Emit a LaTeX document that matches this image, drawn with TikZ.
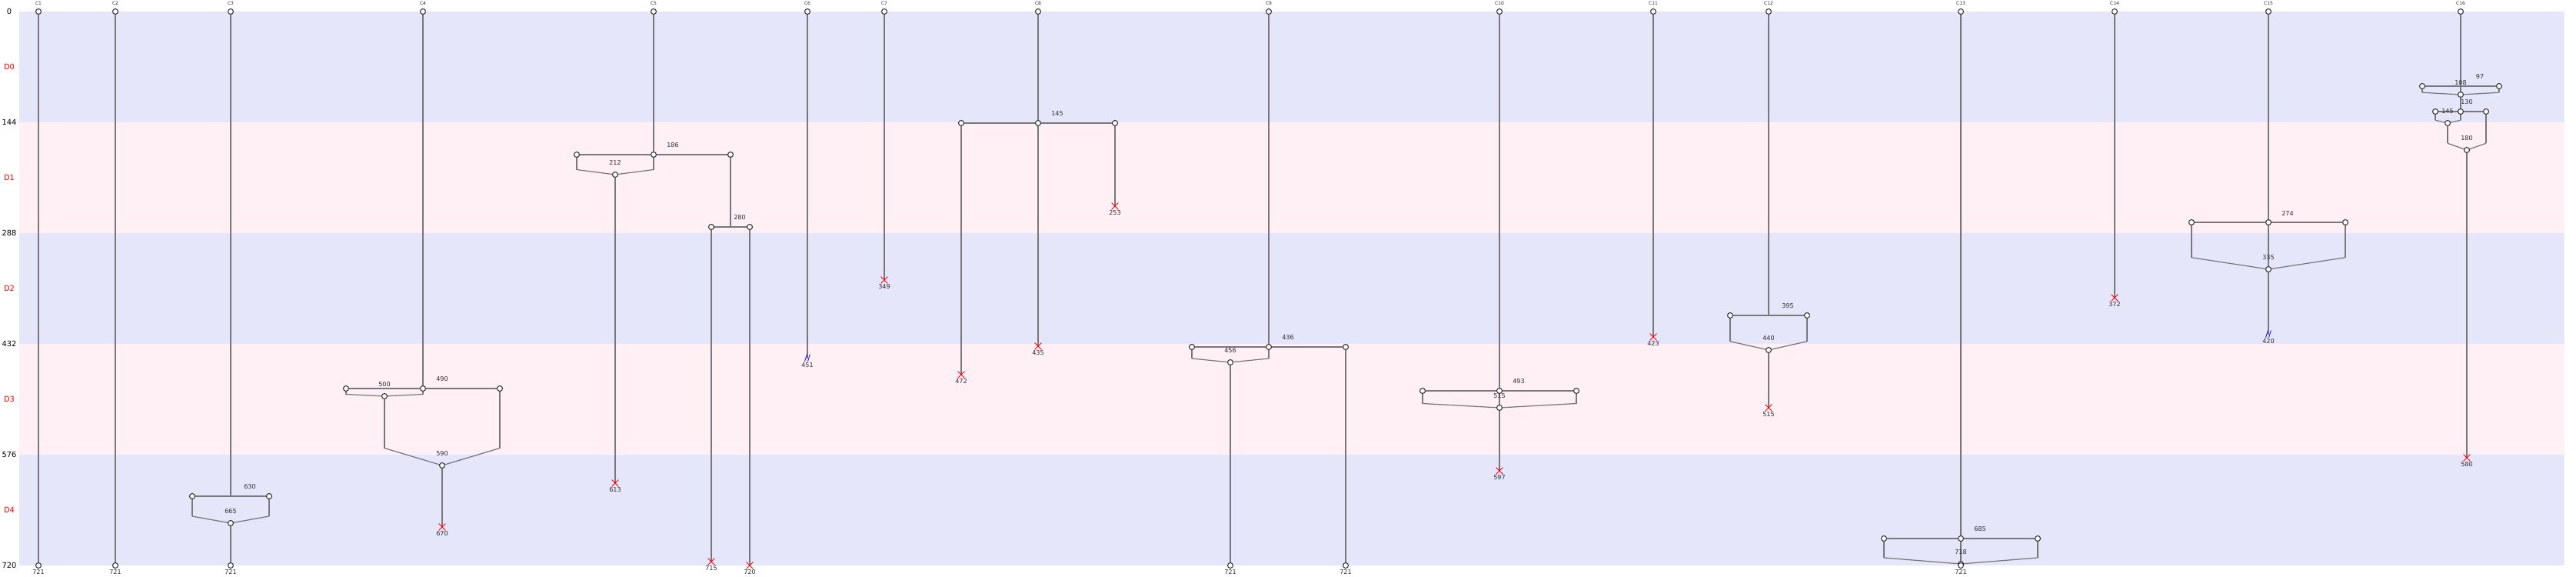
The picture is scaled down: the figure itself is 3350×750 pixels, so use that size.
\documentclass[tikz,border=0pt]{standalone}
\usepackage{fontspec}
\setmainfont{DejaVu Sans}
\usepackage{xcolor}
\usepackage{tikz}
\usetikzlibrary{positioning,shapes.misc}
\definecolor{bandlav}{RGB}{230,230,250}
\definecolor{bandblush}{RGB}{255,240,245}
\definecolor{lanegray}{RGB}{122,118,126}
\definecolor{txtgray}{RGB}{45,45,50}
\pgfdeclarelayer{bg}
\pgfsetlayers{bg,main}
\tikzset{
  cell/.style    = {circle, minimum size=4pt, inner sep=0pt,
                    fill=white, draw=black!80, line width=0.6pt},
  lane/.style    = {line width=1.1pt, lanegray},
  knee/.style    = {line width=0.7pt, lanegray},
  deadend/.style = {cross out, minimum size=4.5pt, inner sep=0pt,
                    draw=red, line width=0.5pt},
  cutend/.style  = {font=\fontsize{6.5}{6.5}\selectfont, text=blue, inner sep=0pt},
  evlbl/.style   = {font=\fontsize{4.6}{5}\selectfont, text=txtgray, inner sep=0pt},
  collbl/.style  = {font=\fontsize{3.4}{4}\selectfont, text=txtgray, inner sep=0pt},
  ticklbl/.style = {font=\fontsize{5.6}{6}\selectfont, inner sep=0pt},
  deplbl/.style  = {ticklbl, text=red}
}

\begin{document}
\begin{tikzpicture}[x=0.02cm, y=-0.02cm]
  \useasboundingbox (0,-15) rectangle (3350,735);
  % Depth bands
  \begin{pgfonlayer}{bg}
    \fill[bandlav]   (25,0)   rectangle (3335,144);
    \fill[bandblush] (25,144) rectangle (3335,288);
    \fill[bandlav]   (25,288) rectangle (3335,432);
    \fill[bandblush] (25,432) rectangle (3335,576);
    \fill[bandlav]   (25,576) rectangle (3335,720);
  \end{pgfonlayer}
  % Axis
  \node[ticklbl] (t0) at (12,0)   {0};
  \node[ticklbl] (t1) at (12,144) {144};
  \node[ticklbl] (t2) at (12,288) {288};
  \node[ticklbl] (t3) at (12,432) {432};
  \node[ticklbl] (t4) at (12,576) {576};
  \node[ticklbl] (t5) at (12,720) {720};
  \node[deplbl]  (d0) at (12,72)  {D0};
  \node[deplbl]  (d1) at (12,216) {D1};
  \node[deplbl]  (d2) at (12,360) {D2};
  \node[deplbl]  (d3) at (12,504) {D3};
  \node[deplbl]  (d4) at (12,648) {D4};
  % C1, C2
  \node[cell] (c1a) at (50,0) {};   \node[cell] (c1z) at (50,720) {};
  \node[cell] (c2a) at (150,0) {};  \node[cell] (c2z) at (150,720) {};
  % C3
  \node[cell] (c3a) at (300,0) {};
  \coordinate (c3s) at (300,630); \coordinate (c3k) at (300,656);
  \node[cell] (c3l) at (250,630) {}; \node[cell] (c3r) at (350,630) {};
  \node[cell] (c3m) at (300,665) {};
  \node[cell] (c3z) at (300,720) {};
  % C4
  \node[cell] (c4a) at (550,0) {};
  \node[cell] (c4l) at (450,490) {}; \node[cell] (c4c) at (550,490) {}; \node[cell] (c4r) at (650,490) {};
  \coordinate (c4k) at (500,497.5); \coordinate (c4j) at (575,567.5);
  \node[cell] (c4m) at (500,500) {};
  \node[cell] (c4n) at (575,590) {};
  \node[deadend] (c4x) at (575,670) {};
  % C5
  \node[cell] (c5a) at (850,0) {};
  \node[cell] (c5l) at (750,186) {}; \node[cell] (c5c) at (850,186) {}; \node[cell] (c5r) at (950,186) {};
  \coordinate (c5k) at (800,205.5);
  \node[cell] (c5m) at (800,212) {};
  \node[deadend] (c5x) at (800,613) {};
  \coordinate (c5s) at (950,280);
  \node[cell] (c5p) at (925,280) {}; \node[cell] (c5q) at (975,280) {};
  \node[deadend] (c5y) at (925,715) {}; \node[deadend] (c5w) at (975,720) {};
  % C6, C7
  \node[cell] (c6a) at (1050,0) {}; \node[cutend] (c6x) at (1050,451) {//};
  \node[cell] (c7a) at (1150,0) {}; \node[deadend] (c7x) at (1150,349) {};
  % C8
  \node[cell] (c8a) at (1350,0) {};
  \node[cell] (c8l) at (1250,145) {}; \node[cell] (c8c) at (1350,145) {}; \node[cell] (c8r) at (1450,145) {};
  \node[deadend] (c8x) at (1250,472) {}; \node[deadend] (c8y) at (1350,435) {}; \node[deadend] (c8w) at (1450,253) {};
  % C9
  \node[cell] (c9a) at (1650,0) {};
  \node[cell] (c9l) at (1550,436) {}; \node[cell] (c9c) at (1650,436) {}; \node[cell] (c9r) at (1750,436) {};
  \coordinate (c9k) at (1600,451);
  \node[cell] (c9m) at (1600,456) {};
  \node[cell] (c9z) at (1600,720) {}; \node[cell] (c9y) at (1750,720) {};
  % C10
  \node[cell] (c10a) at (1950,0) {};
  \node[cell] (c10l) at (1850,493) {}; \node[cell] (c10c) at (1950,493) {}; \node[cell] (c10r) at (2050,493) {};
  \coordinate (c10k) at (1950,509.5);
  \node[cell] (c10m) at (1950,515) {};
  \node[deadend] (c10x) at (1950,597) {};
  % C11
  \node[cell] (c11a) at (2150,0) {}; \node[deadend] (c11x) at (2150,423) {};
  % C12
  \node[cell] (c12a) at (2300,0) {};
  \coordinate (c12s) at (2300,395); \coordinate (c12k) at (2300,428.75);
  \node[cell] (c12l) at (2250,395) {}; \node[cell] (c12r) at (2350,395) {};
  \node[cell] (c12m) at (2300,440) {};
  \node[deadend] (c12x) at (2300,515) {};
  % C13
  \node[cell] (c13a) at (2550,0) {};
  \node[cell] (c13l) at (2450,685) {}; \node[cell] (c13c) at (2550,685) {}; \node[cell] (c13r) at (2650,685) {};
  \coordinate (c13k) at (2550,710);
  \node[cell] (c13m) at (2550,718) {};
  \node[cell] (c13z) at (2550,720) {};
  % C14
  \node[cell] (c14a) at (2750,0) {}; \node[deadend] (c14x) at (2750,372) {};
  % C15
  \node[cell] (c15a) at (2950,0) {};
  \node[cell] (c15l) at (2850,274) {}; \node[cell] (c15c) at (2950,274) {}; \node[cell] (c15r) at (3050,274) {};
  \coordinate (c15k) at (2950,319.75);
  \node[cell] (c15m) at (2950,335) {};
  \node[cutend] (c15x) at (2950,420) {//};
  % C16
  \node[cell] (c16a) at (3200,0) {};
  \coordinate (c16s) at (3200,97); \coordinate (c16k) at (3200,105.25);
  \node[cell] (c16l) at (3150,97) {}; \node[cell] (c16r) at (3250,97) {};
  \node[cell] (c16m) at (3200,108) {};
  \node[cell] (c16p) at (3167,130) {}; \node[cell] (c16c) at (3200,130) {}; \node[cell] (c16q) at (3233,130) {};
  \coordinate (c16j) at (3183,141.25); \coordinate (c16i) at (3208,171.25);
  \node[cell] (c16n) at (3183,145) {};
  \node[cell] (c16o) at (3208,180) {};
  \node[deadend] (c16x) at (3208,580) {};
  % Column names
  \node[collbl] (n1)  at (50,-10.5)   {C1};  \node[collbl] (n2)  at (150,-10.5)  {C2};
  \node[collbl] (n3)  at (300,-10.5)  {C3};  \node[collbl] (n4)  at (550,-10.5)  {C4};
  \node[collbl] (n5)  at (850,-10.5)  {C5};  \node[collbl] (n6)  at (1050,-10.5) {C6};
  \node[collbl] (n7)  at (1150,-10.5) {C7};  \node[collbl] (n8)  at (1350,-10.5) {C8};
  \node[collbl] (n9)  at (1650,-10.5) {C9};  \node[collbl] (n10) at (1950,-10.5) {C10};
  \node[collbl] (n11) at (2150,-10.5) {C11}; \node[collbl] (n12) at (2300,-10.5) {C12};
  \node[collbl] (n13) at (2550,-10.5) {C13}; \node[collbl] (n14) at (2750,-10.5) {C14};
  \node[collbl] (n15) at (2950,-10.5) {C15}; \node[collbl] (n16) at (3200,-10.5) {C16};
  % Split / merge values
  \node[evlbl] (v3s)  at (325,618)    {630}; \node[evlbl] (v3m)  at (300,649.5)  {665};
  \node[evlbl] (v4s)  at (575,478)    {490}; \node[evlbl] (v4m)  at (500,484.5)  {500};
  \node[evlbl] (v4n)  at (575,574.5)  {590};
  \node[evlbl] (v5s)  at (875,174)    {186}; \node[evlbl] (v5m)  at (800,196.5)  {212};
  \node[evlbl] (v5t)  at (962,268)    {280};
  \node[evlbl] (v8s)  at (1375,133)   {145};
  \node[evlbl] (v9s)  at (1675,424)   {436}; \node[evlbl] (v9m)  at (1600,440.5) {456};
  \node[evlbl] (v10s) at (1975,481)   {493}; \node[evlbl] (v10m) at (1950,499.5) {515};
  \node[evlbl] (v12s) at (2325,383)   {395}; \node[evlbl] (v12m) at (2300,424.5) {440};
  \node[evlbl] (v13s) at (2575,673)   {685}; \node[evlbl] (v13m) at (2550,702.5) {718};
  \node[evlbl] (v15s) at (2975,262.5) {274}; \node[evlbl] (v15m) at (2950,319.5) {335};
  \node[evlbl] (v16s) at (3225,85)    {97};  \node[evlbl] (v16m) at (3200,92.5)  {108};
  \node[evlbl] (v16t) at (3208,118)   {130}; \node[evlbl] (v16n) at (3183,129.5) {145};
  \node[evlbl] (v16o) at (3208,164.5) {180};
  % End values
  \node[evlbl] (e1)   at (50,728.5)   {721}; \node[evlbl] (e2)   at (150,728.5)  {721};
  \node[evlbl] (e3)   at (300,728.5)  {721}; \node[evlbl] (e4)   at (575,678.5)  {670};
  \node[evlbl] (e5x)  at (800,621.5)  {613}; \node[evlbl] (e5y)  at (925,723.5)  {715};
  \node[evlbl] (e5w)  at (975,728.5)  {720}; \node[evlbl] (e6)   at (1050,459.5) {451};
  \node[evlbl] (e7)   at (1150,357.5) {349}; \node[evlbl] (e8x)  at (1250,480.5) {472};
  \node[evlbl] (e8y)  at (1350,443.5) {435}; \node[evlbl] (e8w)  at (1450,261.5) {253};
  \node[evlbl] (e9z)  at (1600,728.5) {721}; \node[evlbl] (e9y)  at (1750,728.5) {721};
  \node[evlbl] (e10)  at (1950,605.5) {597}; \node[evlbl] (e11)  at (2150,431.5) {423};
  \node[evlbl] (e12)  at (2300,523.5) {515}; \node[evlbl] (e13)  at (2550,728.5) {721};
  \node[evlbl] (e14)  at (2750,380.5) {372}; \node[evlbl] (e15)  at (2950,428.5) {420};
  \node[evlbl] (e16)  at (3208,588.5) {580};
  % Lanes
  \begin{pgfonlayer}{bg}
    \draw[lane] (c1a.center) -- (c1z.center); \draw[lane] (c2a.center) -- (c2z.center);
    % C3
    \draw[lane] (c3a.center) -- (c3s); \draw[lane] (c3l.center) -- (c3r.center);
    \draw[lane] (c3l.center) -- (c3l |- c3k); \draw[lane] (c3r.center) -- (c3r |- c3k);
    \draw[knee] (c3l |- c3k) -- (c3m.center) -- (c3r |- c3k);
    \draw[lane] (c3m.center) -- (c3z.center);
    % C4
    \draw[lane] (c4a.center) -- (c4c.center); \draw[lane] (c4l.center) -- (c4r.center);
    \draw[lane] (c4l.center) -- (c4l |- c4k); \draw[lane] (c4c.center) -- (c4c |- c4k);
    \draw[knee] (c4l |- c4k) -- (c4m.center) -- (c4c |- c4k);
    \draw[lane] (c4m.center) -- (c4m |- c4j); \draw[lane] (c4r.center) -- (c4r |- c4j);
    \draw[knee] (c4m |- c4j) -- (c4n.center) -- (c4r |- c4j);
    \draw[lane] (c4n.center) -- (c4x.center);
    % C5
    \draw[lane] (c5a.center) -- (c5c.center); \draw[lane] (c5l.center) -- (c5r.center);
    \draw[lane] (c5l.center) -- (c5l |- c5k); \draw[lane] (c5c.center) -- (c5c |- c5k);
    \draw[knee] (c5l |- c5k) -- (c5m.center) -- (c5c |- c5k);
    \draw[lane] (c5m.center) -- (c5x.center);
    \draw[lane] (c5r.center) -- (c5s); \draw[lane] (c5p.center) -- (c5q.center);
    \draw[lane] (c5p.center) -- (c5y.center); \draw[lane] (c5q.center) -- (c5w.center);
    % C6, C7
    \draw[lane] (c6a.center) -- (c6x.center); \draw[lane] (c7a.center) -- (c7x.center);
    % C8
    \draw[lane] (c8a.center) -- (c8c.center); \draw[lane] (c8l.center) -- (c8r.center);
    \draw[lane] (c8l.center) -- (c8x.center); \draw[lane] (c8c.center) -- (c8y.center);
    \draw[lane] (c8r.center) -- (c8w.center);
    % C9
    \draw[lane] (c9a.center) -- (c9c.center); \draw[lane] (c9l.center) -- (c9r.center);
    \draw[lane] (c9l.center) -- (c9l |- c9k); \draw[lane] (c9c.center) -- (c9c |- c9k);
    \draw[knee] (c9l |- c9k) -- (c9m.center) -- (c9c |- c9k);
    \draw[lane] (c9m.center) -- (c9z.center); \draw[lane] (c9r.center) -- (c9y.center);
    % C10
    \draw[lane] (c10a.center) -- (c10m.center); \draw[lane] (c10l.center) -- (c10r.center);
    \draw[lane] (c10l.center) -- (c10l |- c10k); \draw[lane] (c10r.center) -- (c10r |- c10k);
    \draw[knee] (c10l |- c10k) -- (c10m.center) -- (c10r |- c10k);
    \draw[lane] (c10m.center) -- (c10x.center);
    % C11
    \draw[lane] (c11a.center) -- (c11x.center);
    % C12
    \draw[lane] (c12a.center) -- (c12s); \draw[lane] (c12l.center) -- (c12r.center);
    \draw[lane] (c12l.center) -- (c12l |- c12k); \draw[lane] (c12r.center) -- (c12r |- c12k);
    \draw[knee] (c12l |- c12k) -- (c12m.center) -- (c12r |- c12k);
    \draw[lane] (c12m.center) -- (c12x.center);
    % C13
    \draw[lane] (c13a.center) -- (c13z.center); \draw[lane] (c13l.center) -- (c13r.center);
    \draw[lane] (c13l.center) -- (c13l |- c13k); \draw[lane] (c13r.center) -- (c13r |- c13k);
    \draw[knee] (c13l |- c13k) -- (c13m.center) -- (c13r |- c13k);
    % C14
    \draw[lane] (c14a.center) -- (c14x.center);
    % C15
    \draw[lane] (c15a.center) -- (c15m.center); \draw[lane] (c15l.center) -- (c15r.center);
    \draw[lane] (c15l.center) -- (c15l |- c15k); \draw[lane] (c15r.center) -- (c15r |- c15k);
    \draw[knee] (c15l |- c15k) -- (c15m.center) -- (c15r |- c15k);
    \draw[lane] (c15m.center) -- (c15x.center);
    % C16
    \draw[lane] (c16a.center) -- (c16c.center); \draw[lane] (c16l.center) -- (c16r.center);
    \draw[lane] (c16l.center) -- (c16l |- c16k); \draw[lane] (c16r.center) -- (c16r |- c16k);
    \draw[knee] (c16l |- c16k) -- (c16m.center) -- (c16r |- c16k);
    \draw[lane] (c16p.center) -- (c16q.center);
    \draw[lane] (c16p.center) -- (c16p |- c16j); \draw[lane] (c16c.center) -- (c16c |- c16j);
    \draw[knee] (c16p |- c16j) -- (c16n.center) -- (c16c |- c16j);
    \draw[lane] (c16n.center) -- (c16n |- c16i); \draw[lane] (c16q.center) -- (c16q |- c16i);
    \draw[knee] (c16n |- c16i) -- (c16o.center) -- (c16q |- c16i);
    \draw[lane] (c16o.center) -- (c16x.center);
  \end{pgfonlayer}
\end{tikzpicture}
\end{document}
